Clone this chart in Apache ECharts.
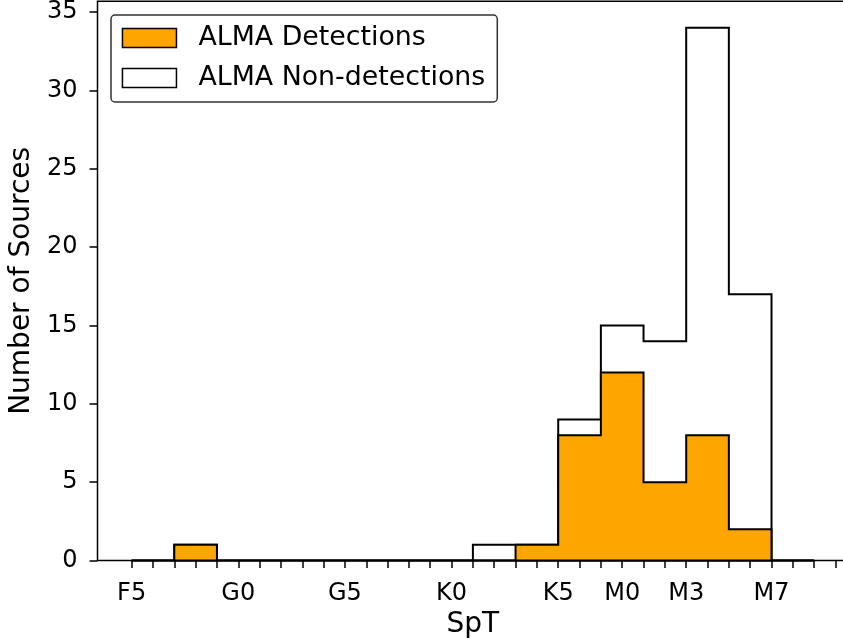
<!DOCTYPE html>
<html>
<head>
<meta charset="utf-8">
<script src="https://cdn.jsdelivr.net/npm/echarts@6/dist/echarts.min.js"></script>
<style>
  html, body { margin: 0; padding: 0; background: #fff; }
  #chart { width: 843px; height: 640px; }
</style>
</head>
<body>
<div id="chart"></div>
<script>
// Spectral-type histogram of ALMA targets (index: F5 = 0, one unit per subtype)
const binStart = 0;
const binWidth = 2;
const detections    = [0, 1, 0, 0, 0, 0, 0, 0, 0, 1, 8, 12, 5, 8, 2, 0];
const nonDetections = [0, 0, 0, 0, 0, 0, 0, 0, 1, 0, 1, 3, 9, 26, 15, 0];

// Labelled spectral types and their index on the axis
const spTypeNames = ['F5', 'G0', 'G5', 'K0', 'K5', 'M0', 'M3', 'M7'];
const spTypeIndex = [0, 5, 10, 15, 20, 23, 26, 30];
const yTickValues = [0, 5, 10, 15, 20, 25, 30, 35];

const xMin = -1.6, xMax = 33.6;
const yMax = 35.7;
const xMinorTicks = [];
for (let i = 0; i <= 33; i++) xMinorTicks.push(i);

// Outline of a filled step histogram: up/across/down for each bin, then back along the base
function stepOutline(counts) {
  const pts = [[binStart, 0]];
  counts.forEach((c, i) => {
    const a = binStart + i * binWidth;
    pts.push([a, c], [a + binWidth, c]);
  });
  const end = binStart + counts.length * binWidth;
  pts.push([end, 0], [binStart, 0]);
  return pts;
}

const totals = detections.map((d, i) => d + nonDetections[i]);

const FONT = 'DejaVu Sans';
const chart = echarts.init(document.getElementById('chart'), null, { renderer: 'canvas' });

chart.setOption({
  animation: false,
  backgroundColor: '#ffffff',
  grid: {
    left: 97.5,
    top: 1.2,
    width: 750.8,
    bottom: 79.5,
    outerBoundsMode: 'none',
    containLabel: false,
    show: true,
    borderColor: '#000',
    borderWidth: 1.5,
    backgroundColor: 'transparent'
  },
  legend: {
    orient: 'vertical',
    left: 111,
    top: 15,
    padding: [9.4, 12, 10.6, 10.7],
    itemWidth: 54,
    itemHeight: 19,
    itemGap: 13,
    backgroundColor: 'rgba(255,255,255,0.8)',
    borderColor: '#333',
    borderWidth: 1.5,
    borderRadius: 4,
    icon: 'rect',
    textStyle: {
      fontFamily: FONT,
      fontSize: 26.8,
      lineHeight: 12,
      color: '#000',
      padding: [8, 0, 0, 17]
    },
    data: [
      { name: 'ALMA Detections', itemStyle: { color: '#FFA500', borderColor: '#000', borderWidth: 1.5 } },
      { name: 'ALMA Non-detections', itemStyle: { color: '#ffffff', borderColor: '#000', borderWidth: 1.5 } }
    ]
  },
  xAxis: {
    type: 'value',
    min: xMin,
    max: xMax,
    name: 'SpT',
    nameLocation: 'middle',
    nameGap: 49,
    nameTextStyle: { fontFamily: FONT, fontSize: 28, color: '#000' },
    axisLine: { show: false, onZero: false },
    splitLine: { show: false },
    axisTick: {
      show: true,
      length: 7.5,
      customValues: xMinorTicks,
      lineStyle: { color: '#000', width: 1.5 }
    },
    axisLabel: {
      customValues: spTypeIndex,
      formatter: v => spTypeNames[spTypeIndex.indexOf(v)] || '',
      fontFamily: FONT,
      fontSize: 24,
      color: '#000',
      margin: 21
    }
  },
  yAxis: {
    type: 'value',
    min: 0,
    max: yMax,
    name: 'Number of Sources',
    nameLocation: 'middle',
    nameRotate: 90,
    nameGap: 52,
    nameTextStyle: { fontFamily: FONT, fontSize: 28, color: '#000' },
    axisLine: { show: false, onZero: false },
    splitLine: { show: false },
    axisTick: {
      show: true,
      length: 8,
      customValues: yTickValues,
      lineStyle: { color: '#000', width: 1.5 }
    },
    axisLabel: {
      customValues: yTickValues,
      fontFamily: FONT,
      fontSize: 24,
      color: '#000',
      margin: 20
    }
  },
  series: [
    {
      name: 'ALMA Non-detections',
      type: 'line',
      data: stepOutline(totals),
      symbol: 'none',
      clip: false,
      itemStyle: { color: '#ffffff' },
      lineStyle: { color: '#000', width: 2, join: 'miter' },
      areaStyle: { color: '#ffffff', opacity: 1, origin: 'start' },
      z: 2
    },
    {
      name: 'ALMA Detections',
      type: 'line',
      data: stepOutline(detections),
      symbol: 'none',
      clip: false,
      itemStyle: { color: '#FFA500' },
      lineStyle: { color: '#000', width: 2, join: 'miter' },
      areaStyle: { color: '#FFA500', opacity: 1, origin: 'start' },
      z: 3
    }
  ]
});
</script>
</body>
</html>
